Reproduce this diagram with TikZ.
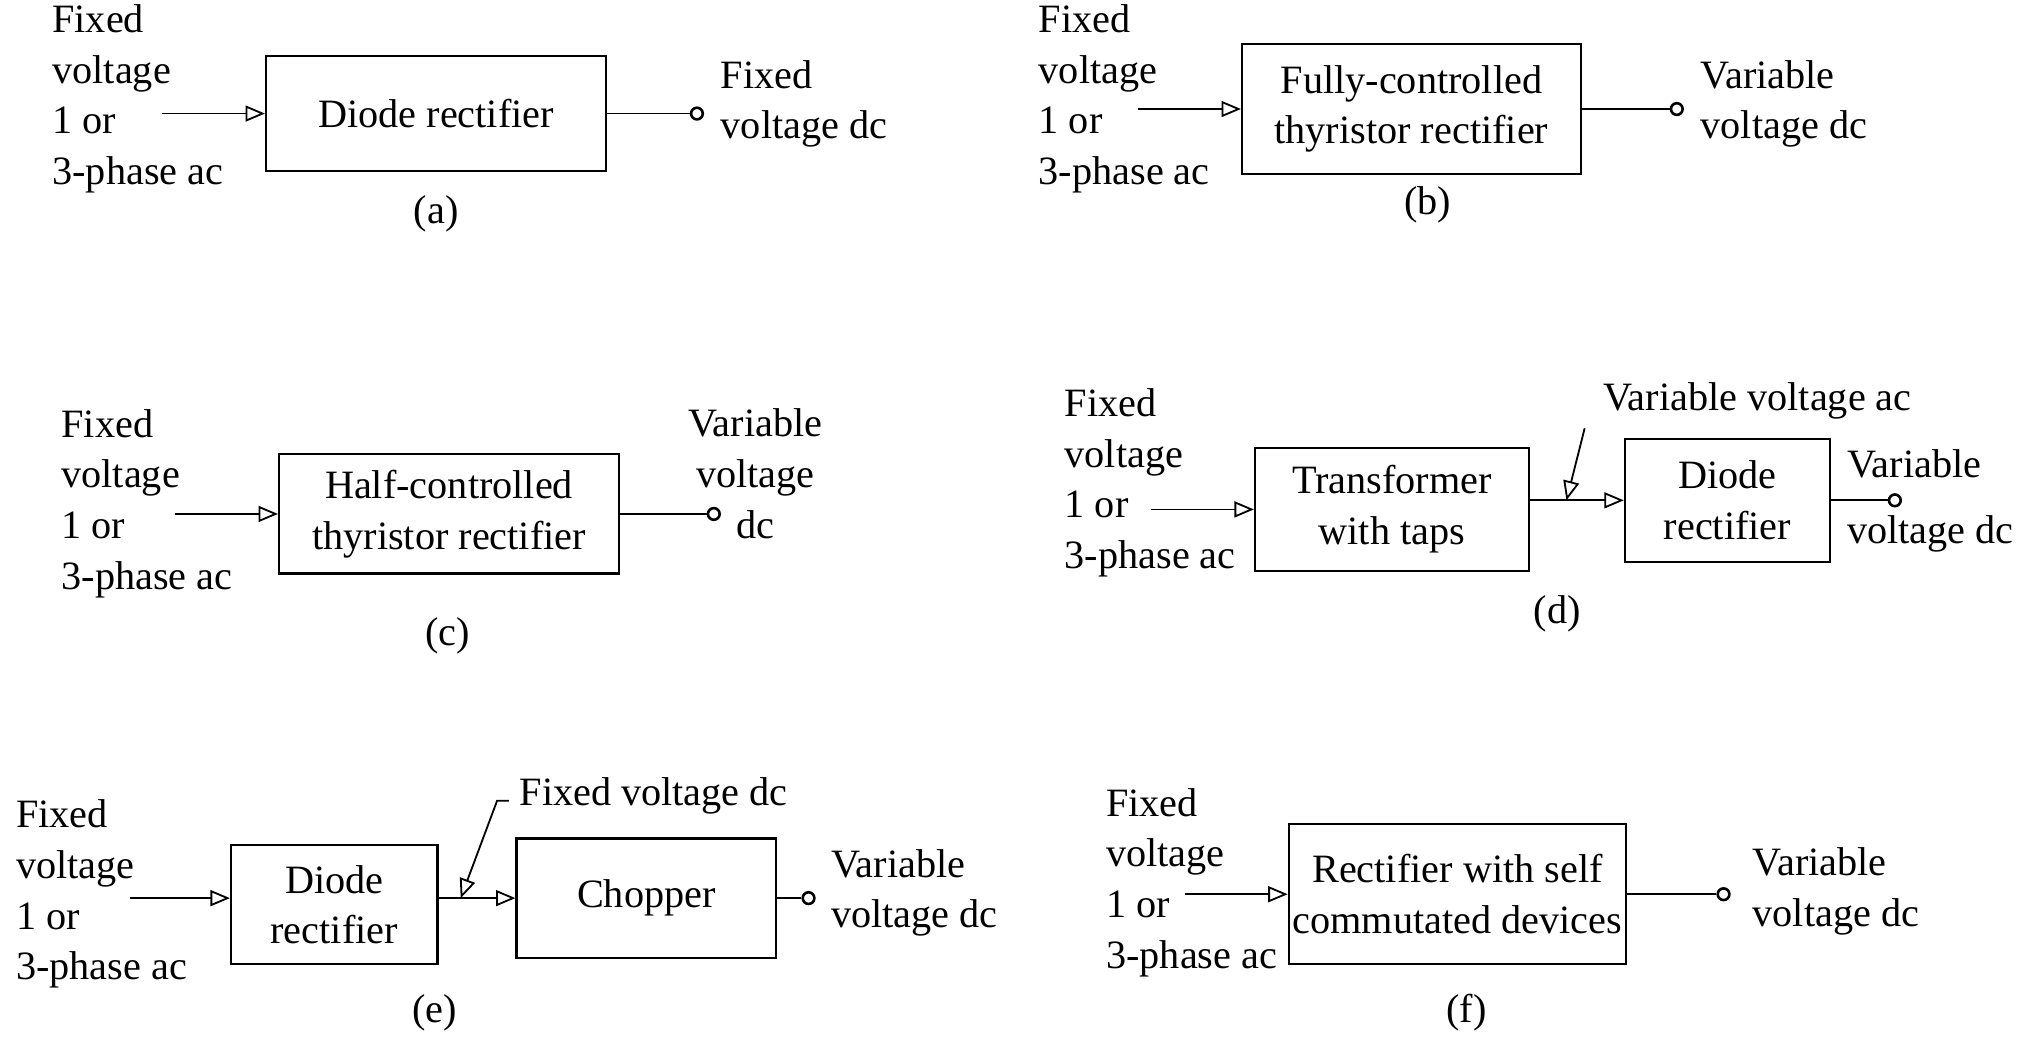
\documentclass[tikz,border=0pt]{standalone}
\usepackage{fontspec}
\setmainfont{Liberation Serif}
\usetikzlibrary{arrows}

\begin{document}
\begin{tikzpicture}[x=0.5pt,y=-0.5pt,
  font=\fontsize{15.5}{19.5}\selectfont,
  blk/.style={draw, line width=0.9pt, align=center, inner sep=0pt},
  sig/.style={line width=0.7pt, -open triangle 45},
  wire/.style={line width=0.7pt},
  port/.style={circle, draw, line width=1pt, fill=white, inner sep=0pt, minimum size=4.5pt},
  src/.style={align=left, anchor=west, inner sep=0pt}]
  \useasboundingbox (0,0) rectangle (1568,800);

  % (a) diode rectifier
  \node[src] (ina) at (40,76) {Fixed\\voltage\\1 or\\3-phase ac};
  \node[blk, minimum width=131pt, minimum height=44.5pt] (boxa) at (336,87.5) {Diode rectifier};
  \coordinate (sa) at (125,87.5);
  \node[port] (pa) at (537,87.5) {};
  \node[src] (outa) at (555,80) {Fixed\\voltage dc};
  \draw[sig] (sa) -- (boxa.west);
  \draw[wire] (boxa.east) -- (pa);
  \node (capa) at (336,165) {(a)};

  % (b) fully-controlled
  \node[src] (inb) at (800,76) {Fixed\\voltage\\1 or\\3-phase ac};
  \node[blk, minimum width=130.5pt, minimum height=50pt] (boxb) at (1087.5,84) {Fully-controlled\\thyristor rectifier};
  \coordinate (sb) at (877,84);
  \node[port] (pb) at (1292,84) {};
  \node[src] (outb) at (1310,80) {Variable\\voltage dc};
  \draw[sig] (sb) -- (boxb.west);
  \draw[wire] (boxb.east) -- (pb);
  \node (capb) at (1100,158) {(b)};

  % (c) half-controlled
  \node[src] (inc) at (47,388) {Fixed\\voltage\\1 or\\3-phase ac};
  \node[blk, minimum width=131pt, minimum height=46pt] (boxc) at (346,396) {Half-controlled\\thyristor rectifier};
  \coordinate (sc) at (135,396);
  \node[port] (pc) at (550,396) {};
  \node[align=center, inner sep=0pt] (outc) at (582,365) {Variable\\voltage\\dc};
  \draw[sig] (sc) -- (boxc.west);
  \draw[wire] (boxc.east) -- (pc);
  \node (capc) at (345,490) {(c)};

  % (d) transformer with taps + diode rectifier
  \node[src] (ind) at (820,372) {Fixed\\voltage\\1 or\\3-phase ac};
  \node[blk, minimum width=105.5pt, minimum height=47.5pt] (trd) at (1072.5,392.5) {Transformer\\with taps};
  \node[blk, minimum width=79pt, minimum height=47.5pt] (rcd) at (1331,385.5) {Diode\\rectifier};
  \coordinate (sd) at (887,392.5);
  \node[port] (pd) at (1460,385.5) {};
  \node[src] (outd) at (1423,386) {Variable\\[6pt]voltage dc};
  \node[src] (vac) at (1235,309) {Variable voltage ac};
  \coordinate (vtip) at (1221,330);
  \coordinate (tapd) at (1207,385.5);
  \draw[sig] (sd) -- (trd.west);
  \draw[sig] (trd.east |- rcd.west) -- (rcd.west);
  \draw[sig] (vtip) -- (tapd);
  \draw[wire] (rcd.east) -- (pd);
  \node (capd) at (1200,473) {(d)};

  % (e) diode rectifier + chopper
  \node[src] (ine) at (12,689) {Fixed\\voltage\\1 or\\3-phase ac};
  \node[blk, minimum width=79.5pt, minimum height=46pt] (rce) at (257.5,697) {Diode\\rectifier};
  \node[blk, minimum width=100pt, minimum height=46pt] (che) at (498,692) {Chopper};
  \coordinate (se) at (100,692);
  \node[port] (pe) at (623,692) {};
  \node[src] (oute) at (640,688) {Variable\\voltage dc};
  \node[src] (fdc) at (400,613) {Fixed voltage dc};
  \coordinate (ftip) at (392,617);
  \coordinate (tape) at (355,692);
  \draw[sig] (se) -- (rce.west |- che.west);
  \draw[sig] (rce.east |- che.west) -- (che.west);
  \draw[sig] (ftip) -- ++(-9,0) -- (tape);
  \draw[wire] (che.east) -- (pe);
  \node (cape) at (335,780) {(e)};

  % (f) self commutated devices
  \node[src] (inf) at (852,680) {Fixed\\voltage\\1 or\\3-phase ac};
  \node[blk, minimum width=130pt, minimum height=54pt] (boxf) at (1123,689) {Rectifier with self\\commutated devices};
  \coordinate (sf) at (913,689);
  \node[port] (pf) at (1328,689) {};
  \node[src] (outf) at (1350,687) {Variable\\voltage dc};
  \draw[sig] (sf) -- (boxf.west);
  \draw[wire] (boxf.east) -- (pf);
  \node (capf) at (1130,780) {(f)};
\end{tikzpicture}
\end{document}
